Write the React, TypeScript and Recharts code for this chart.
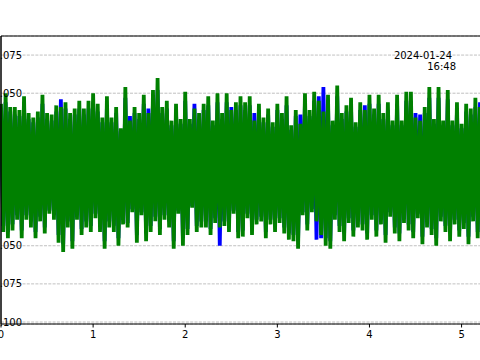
import { CartesianGrid, Line, LineChart, ReferenceLine, XAxis, YAxis } from "recharts";

// sampling interval of the trace (x units)
const SAMPLE_STEP = 0.025;

// upper excursions (even samples) and lower excursions (odd samples)
const greenPeaks = [
  0.043, 0.050, 0.041, 0.041, 0.039, 0.048, 0.037, 0.034, 0.038, 0.049,
  0.037, 0.036, 0.042, 0.041, 0.044, 0.037, 0.040, 0.045, 0.040, 0.045,
  0.050, 0.043, 0.034, 0.048, 0.034, 0.041, 0.027, 0.054, 0.032, 0.041,
  0.037, 0.049, 0.037, 0.052, 0.060, 0.041, 0.045, 0.032, 0.043, 0.033,
  0.051, 0.033, 0.040, 0.037, 0.043, 0.048, 0.032, 0.050, 0.037, 0.050,
  0.039, 0.044, 0.048, 0.044, 0.048, 0.032, 0.043, 0.034, 0.040, 0.031,
  0.043, 0.037, 0.048, 0.029, 0.039, 0.030, 0.050, 0.039, 0.051, 0.045,
  0.038, 0.049, 0.032, 0.055, 0.037, 0.042, 0.047, 0.031, 0.044, 0.039,
  0.049, 0.040, 0.049, 0.037, 0.044, 0.032, 0.049, 0.032, 0.051, 0.051,
  0.034, 0.032, 0.041, 0.054, 0.033, 0.054, 0.032, 0.052, 0.032, 0.044,
  0.030, 0.043, 0.040, 0.047, 0.041,
];
const greenTroughs = [
  -0.041, -0.045, -0.040, -0.033, -0.045, -0.033, -0.038, -0.045, -0.034, -0.042,
  -0.029, -0.033, -0.048, -0.054, -0.038, -0.052, -0.033, -0.043, -0.038, -0.041,
  -0.032, -0.041, -0.052, -0.038, -0.041, -0.050, -0.036, -0.038, -0.028, -0.048,
  -0.030, -0.047, -0.041, -0.034, -0.043, -0.033, -0.038, -0.052, -0.029, -0.050,
  -0.043, -0.025, -0.041, -0.038, -0.038, -0.043, -0.035, -0.038, -0.037, -0.041,
  -0.029, -0.045, -0.044, -0.032, -0.043, -0.036, -0.034, -0.045, -0.036, -0.041,
  -0.035, -0.042, -0.046, -0.047, -0.052, -0.030, -0.040, -0.028, -0.034, -0.043,
  -0.050, -0.052, -0.033, -0.041, -0.047, -0.035, -0.044, -0.038, -0.040, -0.046,
  -0.033, -0.044, -0.036, -0.048, -0.031, -0.042, -0.047, -0.035, -0.040, -0.045,
  -0.032, -0.049, -0.038, -0.043, -0.050, -0.034, -0.041, -0.047, -0.036, -0.044,
  -0.039, -0.049, -0.034, -0.045,
];
const bluePeaks = [
  0.040, 0.044, 0.038, 0.036, 0.035, 0.042, 0.033, 0.031, 0.034, 0.043,
  0.033, 0.032, 0.038, 0.046, 0.040, 0.033, 0.036, 0.040, 0.036, 0.040,
  0.044, 0.038, 0.031, 0.042, 0.031, 0.037, 0.025, 0.047, 0.035, 0.037,
  0.033, 0.043, 0.040, 0.046, 0.052, 0.037, 0.040, 0.029, 0.038, 0.030,
  0.045, 0.030, 0.043, 0.033, 0.039, 0.042, 0.029, 0.044, 0.033, 0.044,
  0.041, 0.039, 0.042, 0.039, 0.042, 0.037, 0.039, 0.031, 0.036, 0.028,
  0.039, 0.033, 0.042, 0.026, 0.035, 0.036, 0.044, 0.035, 0.045, 0.048,
  0.054, 0.043, 0.029, 0.048, 0.033, 0.038, 0.041, 0.028, 0.039, 0.042,
  0.043, 0.036, 0.043, 0.033, 0.039, 0.029, 0.043, 0.029, 0.045, 0.045,
  0.037, 0.036, 0.037, 0.047, 0.030, 0.047, 0.029, 0.046, 0.029, 0.039,
  0.027, 0.038, 0.036, 0.041, 0.044,
];
const blueTroughs = [
  -0.037, -0.041, -0.036, -0.030, -0.040, -0.030, -0.034, -0.041, -0.031, -0.038,
  -0.027, -0.030, -0.043, -0.049, -0.034, -0.047, -0.030, -0.039, -0.034, -0.037,
  -0.029, -0.037, -0.047, -0.034, -0.037, -0.045, -0.033, -0.035, -0.026, -0.043,
  -0.028, -0.042, -0.037, -0.031, -0.039, -0.030, -0.034, -0.047, -0.027, -0.045,
  -0.039, -0.024, -0.037, -0.034, -0.034, -0.039, -0.032, -0.050, -0.034, -0.037,
  -0.027, -0.041, -0.040, -0.029, -0.039, -0.033, -0.031, -0.041, -0.033, -0.037,
  -0.032, -0.038, -0.042, -0.043, -0.047, -0.028, -0.036, -0.026, -0.046, -0.045,
  -0.045, -0.047, -0.030, -0.037, -0.042, -0.032, -0.040, -0.034, -0.036, -0.042,
  -0.030, -0.040, -0.033, -0.043, -0.028, -0.038, -0.042, -0.032, -0.036, -0.041,
  -0.029, -0.044, -0.034, -0.039, -0.045, -0.031, -0.037, -0.042, -0.033, -0.040,
  -0.035, -0.044, -0.031, -0.041,
];

const xTicks = [0, 1, 2, 3, 4, 5];
const yTicks = [-0.1, -0.075, -0.05, 0.05, 0.075];
const X_DOMAIN: [number, number] = [0, 5.2];
const Y_DOMAIN: [number, number] = [-0.1013, 0.0875];
const stampDate = "2024-01-24";
const stampTime = "16:48";

const FONT = "DejaVu Sans";

const pick = (peaks: number[], troughs: number[], i: number) =>
  i % 2 === 0 ? peaks[i / 2] : troughs[(i - 1) / 2];

const data = Array.from({ length: greenPeaks.length + greenTroughs.length }, (_, i) => ({
  t: +(i * SAMPLE_STEP).toFixed(3),
  blue: pick(bluePeaks, blueTroughs, i),
  green: pick(greenPeaks, greenTroughs, i),
}));

const fmtY = (v: number) => (v < 0 ? "\u2212" : "") + Math.abs(v).toFixed(3);

const renderYTick = (props: any) => (
  <text
    key={props.index}
    x={22}
    y={props.y}
    dy={3.6}
    textAnchor="end"
    fontSize={10}
    fill="#000"
    fontFamily={FONT}
  >
    {fmtY(props.payload.value)}
  </text>
);

export default function App() {
  return (
    <div style={{ position: "absolute", left: 0, top: 0, width: 480, height: 360 }}>
      <LineChart width={480} height={360} data={data} margin={{ top: 36, right: 0, left: 0, bottom: 6 }}>
        <CartesianGrid vertical={false} stroke="#b0b0b0" strokeWidth={0.8} strokeDasharray="3 1.3" />
        <XAxis
          type="number"
          dataKey="t"
          domain={X_DOMAIN}
          ticks={xTicks}
          interval={0}
          height={30}
          tickSize={3.5}
          tickMargin={3.5}
          tickLine={{ stroke: "#000" }}
          axisLine={{ stroke: "#000" }}
          tick={{ fill: "#000", fontSize: 10, fontFamily: FONT }}
        />
        <YAxis
          type="number"
          domain={Y_DOMAIN}
          ticks={yTicks}
          interval={0}
          width={1}
          tickLine={false}
          axisLine={{ stroke: "#000", strokeWidth: 1.5 }}
          tick={renderYTick}
        />
        <ReferenceLine y={Y_DOMAIN[1]} stroke="#000" strokeWidth={1} />
        <Line
          type="linear"
          dataKey="blue"
          stroke="#0000ff"
          strokeWidth={3.8}
          dot={false}
          isAnimationActive={false}
        />
        <Line
          type="linear"
          dataKey="green"
          stroke="#008000"
          strokeWidth={3.8}
          dot={false}
          isAnimationActive={false}
        />
      </LineChart>
      <svg width={480} height={360} style={{ position: "absolute", left: 0, top: 0, pointerEvents: "none" }}>
        <text x={452} y={58.5} textAnchor="end" fontSize={10} fill="#000" fontFamily={FONT}>
          {stampDate}
        </text>
        <text x={456} y={70} textAnchor="end" fontSize={10} fill="#000" fontFamily={FONT}>
          {stampTime}
        </text>
      </svg>
    </div>
  );
}
